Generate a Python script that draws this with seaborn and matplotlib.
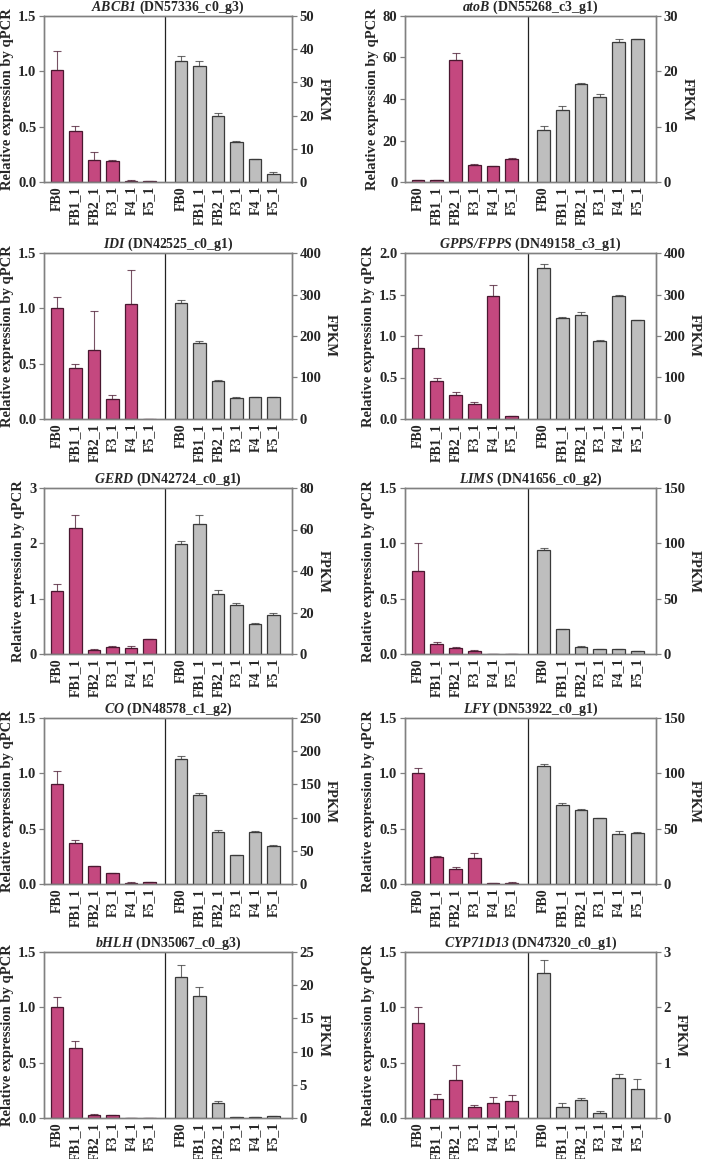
import numpy as np
import pandas as pd
import matplotlib
matplotlib.use("Agg")
import matplotlib.pyplot as plt
import seaborn as sns

# --- datos ---
samples = ["FB0", "FB1_1", "FB2_1", "F3_1", "F4_1", "F5_1"]
genes = ["ABCB1", "atoB", "IDI", "GPPS/FPPS", "GERD", "LIMS", "CO", "LFY", "bHLH", "CYP71D13"]
gene_ids = ["DN57336_c0_g3", "DN55268_c3_g1", "DN42525_c0_g1", "DN49158_c3_g1", "DN42724_c0_g1",
            "DN41656_c0_g2", "DN48578_c1_g2", "DN53922_c0_g1", "DN35067_c0_g3", "DN47320_c0_g1"]

qpcr = [
    [1.01, 0.46, 0.20, 0.19, 0.010, 0.006],
    [1.0, 1.0, 59.0, 8.2, 7.6, 10.9],
    [1.00, 0.46, 0.62, 0.18, 1.04, 0.0],
    [0.85, 0.46, 0.29, 0.18, 1.48, 0.035],
    [1.13, 2.27, 0.08, 0.12, 0.10, 0.27],
    [0.75, 0.09, 0.055, 0.03, 0.0, 0.0],
    [0.90, 0.37, 0.16, 0.095, 0.012, 0.015],
    [1.00, 0.245, 0.135, 0.235, 0.005, 0.012],
    [1.00, 0.63, 0.03, 0.025, 0.0, 0.0],
    [0.86, 0.17, 0.34, 0.10, 0.14, 0.15],
]
qpcr_err = [
    [0.17, 0.05, 0.07, 0.006, 0.004, 0.004],
    [0.2, 0.2, 3.0, 0.3, 0.3, 0.6],
    [0.10, 0.04, 0.36, 0.04, 0.31, 0.0],
    [0.16, 0.03, 0.03, 0.03, 0.14, 0.0],
    [0.13, 0.25, 0.005, 0.03, 0.04, 0.004],
    [0.25, 0.02, 0.005, 0.004, 0.0, 0.0],
    [0.12, 0.03, 0.005, 0.005, 0.002, 0.002],
    [0.05, 0.005, 0.015, 0.045, 0.0, 0.002],
    [0.09, 0.065, 0.005, 0.003, 0.0, 0.0],
    [0.14, 0.05, 0.14, 0.015, 0.05, 0.06],
]
fpkm = [
    [36.4, 35.0, 20.0, 12.1, 6.9, 2.5],
    [9.4, 13.1, 17.8, 15.4, 25.3, 25.8],
    [279, 183, 92, 51, 52, 53],
    [364, 243, 250, 188, 296, 238],
    [53.2, 62.8, 28.9, 23.5, 14.6, 18.8],
    [94, 22.5, 6.5, 4.5, 4.3, 2.8],
    [188, 134, 78, 43, 79, 57],
    [106.5, 71.5, 66.5, 59.5, 45.5, 46],
    [21.2, 18.3, 2.2, 0.15, 0.1, 0.25],
    [2.62, 0.19, 0.32, 0.09, 0.73, 0.52],
]
fpkm_err = [
    [1.7, 1.3, 0.7, 0.2, 0.1, 0.5],
    [0.7, 0.7, 0.1, 0.5, 0.6, 0.1],
    [7, 6, 1, 1, 1, 1],
    [9, 2, 8, 2, 3, 1],
    [1.1, 4.3, 2.1, 0.9, 0.2, 1.1],
    [2, 0.3, 0.6, 0.2, 0.3, 0.2],
    [5, 2.5, 3, 1, 1.5, 2],
    [2, 1.5, 1, 0.5, 2.5, 1],
    [1.8, 1.5, 0.35, 0.05, 0.05, 0.1],
    [0.24, 0.08, 0.04, 0.04, 0.07, 0.19],
]
qpcr_lim = [1.5, 80, 1.5, 2.0, 3, 1.5, 1.5, 1.5, 1.5, 1.5]
qpcr_step = [0.5, 20, 0.5, 0.5, 1, 0.5, 0.5, 0.5, 0.5, 0.5]
fpkm_lim = [50, 30, 400, 400, 80, 150, 250, 150, 25, 3]
fpkm_step = [10, 10, 100, 100, 20, 50, 50, 50, 5, 1]

# --- estilo ---
sns.set_style("ticks")
plt.rcParams["font.family"] = ["Liberation Serif", "DejaVu Serif"]
plt.rcParams["font.weight"] = "bold"
plt.rcParams["mathtext.fontset"] = "custom"
plt.rcParams["mathtext.it"] = "Liberation Serif:italic:bold"
plt.rcParams["mathtext.rm"] = "Liberation Serif:italic:bold"

COLOR_QPCR = "#C4487F"
EDGE_QPCR = "#4a1830"
COLOR_FPKM = "#BEBEBE"
EDGE_FPKM = "#3a3a3a"
FRAME = "#808080"

W, H = 709, 1159
fig = plt.figure(figsize=(W / 100, H / 100), dpi=100)

col_x = [(44, 292), (405, 656)]
row_top = [16, 253, 488, 718, 952]
ax_h = 166

pos_left = np.arange(6, dtype=float)
pos_right = pos_left + 6.7
divider = 5.85

for i, gene in enumerate(genes):
    r, c = divmod(i, 2)
    x0, x1 = col_x[c]
    rect = [x0 / W, (H - row_top[r] - ax_h) / H, (x1 - x0) / W, ax_h / H]
    ax = fig.add_axes(rect)
    ax2 = ax.twinx()

    df_q = pd.DataFrame({"pos": pos_left, "valor": qpcr[i]})
    df_f = pd.DataFrame({"pos": pos_right, "valor": fpkm[i]})

    sns.barplot(data=df_q, x="pos", y="valor", ax=ax, native_scale=True, width=0.68,
                color=COLOR_QPCR, saturation=1, edgecolor=EDGE_QPCR, linewidth=0.9, errorbar=None)
    sns.barplot(data=df_f, x="pos", y="valor", ax=ax2, native_scale=True, width=0.68,
                color=COLOR_FPKM, saturation=1, edgecolor=EDGE_FPKM, linewidth=0.9, errorbar=None)

    # barras de error (solo hacia arriba)
    ax.errorbar(pos_left, qpcr[i], yerr=[np.zeros(6), qpcr_err[i]], fmt="none",
                ecolor=EDGE_QPCR, elinewidth=0.8, capsize=3, capthick=0.8, alpha=0.75)
    ax2.errorbar(pos_right, fpkm[i], yerr=[np.zeros(6), fpkm_err[i]], fmt="none",
                 ecolor=EDGE_FPKM, elinewidth=0.8, capsize=3, capthick=0.8, alpha=0.75)

    ax.axvline(divider, color="#222222", lw=0.9)

    ax.set_xlim(-0.7, 12.7)
    ax.set_ylim(0, qpcr_lim[i])
    ax2.set_ylim(0, fpkm_lim[i])
    ax.set_yticks(np.arange(0, qpcr_lim[i] + 1e-9, qpcr_step[i]))
    ax2.set_yticks(np.arange(0, fpkm_lim[i] + 1e-9, fpkm_step[i]))
    if qpcr_step[i] < 1:
        ax.set_yticklabels([f"{v:.1f}" for v in ax.get_yticks()])
    else:
        ax.set_yticklabels([f"{v:.0f}" for v in ax.get_yticks()])
    ax2.set_yticklabels([f"{v:.0f}" for v in ax2.get_yticks()])

    ax.set_xticks(np.concatenate([pos_left, pos_right]))
    ax.set_xticklabels(samples + samples, rotation=90, fontsize=10, fontweight="bold")
    ax.tick_params(axis="x", length=0, pad=3)
    ax.tick_params(axis="y", length=3.5, width=0.9, color=FRAME, labelsize=10.5, pad=2)
    ax2.tick_params(axis="y", length=3.5, width=0.9, color=FRAME, labelsize=10.5, pad=2)
    ax2.tick_params(axis="x", length=0)

    for a in (ax, ax2):
        for sp in a.spines.values():
            sp.set_visible(True)
            sp.set_color(FRAME)
            sp.set_linewidth(1.0)
        a.set_xlabel("")
        a.set_ylabel("")

    ax.set_ylabel("Relative expression by qPCR", fontsize=10.5, fontweight="bold", labelpad=3)
    ax2.set_ylabel("FPKM", fontsize=10.5, fontweight="bold", rotation=270, labelpad=11)
    ax.set_title(f"$\\mathit{{{gene}}}$ ({gene_ids[i]})", fontsize=10, fontweight="bold", pad=3)

fig.savefig("out.png", dpi=100)
